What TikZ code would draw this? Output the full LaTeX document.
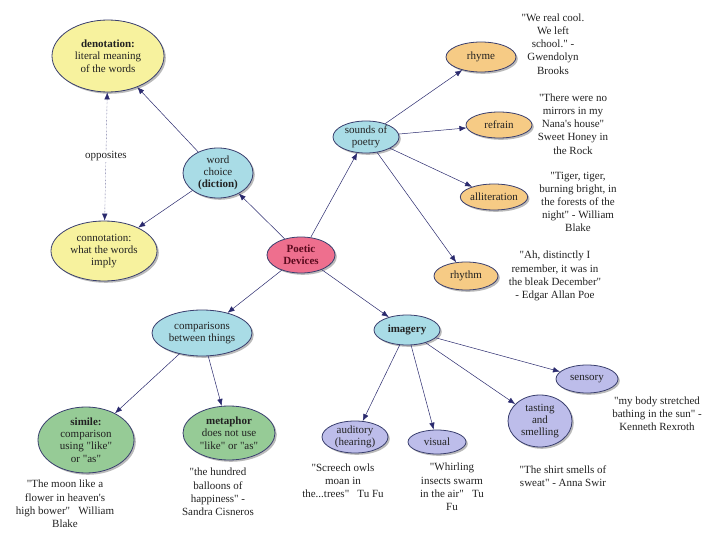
\documentclass[tikz,border=0pt]{standalone}
\usepackage{fontspec}
\setmainfont{Liberation Serif}[Ligatures=TeXOff]
\usetikzlibrary{shapes.geometric,shadows,arrows.meta}
\definecolor{yel}{HTML}{F7F29E}
\definecolor{blu}{HTML}{A9DCE6}
\definecolor{pnk}{HTML}{EE6F8E}
\definecolor{org}{HTML}{F6CB85}
\definecolor{grn}{HTML}{96CB96}
\definecolor{lav}{HTML}{BDBDEA}
\definecolor{edgeblue}{HTML}{3A3F6E}
\definecolor{arrowblue}{HTML}{15156A}
\definecolor{txt}{HTML}{222222}
\tikzset{
  bub/.style={ellipse, draw=edgeblue, line width=0.8pt, inner sep=0pt, align=center,
    text=txt, font=\fontsize{11}{12.3}\selectfont,
    drop shadow={shadow xshift=1.8pt, shadow yshift=-1.8pt, fill=black!45, opacity=0.6}},
  quote/.style={align=center, text=txt, inner sep=0pt, font=\fontsize{11}{13.2}\selectfont},
  link/.style={draw=arrowblue!80!gray, line width=0.5pt, -{Latex[length=7pt,width=5.5pt]}},
}
\begin{document}
\begin{tikzpicture}[x=1pt,y=-1pt]
\fill[white] (0,0) rectangle (720,540);
\useasboundingbox (0,0) rectangle (720,540);

% bubbles
\node[bub, fill=yel, minimum width=112pt, minimum height=72pt] (deno) at (108,56) {\textbf{denotation:}\\literal meaning\\of the words};
\node[bub, fill=yel, minimum width=106pt, minimum height=60pt] (conno) at (104,251) {connotation:\\what the words\\imply};
\node[bub, fill=blu, minimum width=70pt, minimum height=50pt] (word) at (218,173) {word\\choice\\\textbf{(diction)}};
\node[bub, fill=pnk, minimum width=68pt, minimum height=36pt, text={rgb,255:red,90;green,10;blue,30}, font=\fontsize{11}{12.3}\selectfont\bfseries] (poetic) at (301,255) {Poetic\\Devices};
\node[bub, fill=blu, minimum width=66pt, minimum height=32pt] (sounds) at (366,137) {sounds of\\poetry};
\node[bub, fill=org, minimum width=70pt, minimum height=30pt] (rhyme) at (481,57) {rhyme};
\node[bub, fill=org, minimum width=66pt, minimum height=26pt] (refrain) at (499,125) {refrain};
\node[bub, fill=org, minimum width=64pt, minimum height=26pt] (allit) at (494,197) {alliteration};
\node[bub, fill=org, minimum width=64pt, minimum height=28pt] (rhythm) at (466,276) {rhythm};
\node[bub, fill=blu, minimum width=100pt, minimum height=46pt] (comp) at (202,333) {comparisons\\between things};
\node[bub, fill=blu, minimum width=66pt, minimum height=30pt] (imag) at (407,330) {\textbf{imagery}};
\node[bub, fill=grn, minimum width=96pt, minimum height=66pt] (simile) at (86,440) {\textbf{simile:}\\comparison\\using "like"\\or "as"};
\node[bub, fill=grn, minimum width=92pt, minimum height=54pt] (meta) at (229,433) {\textbf{metaphor}\\does not use\\"like" or "as"};
\node[bub, fill=lav, minimum width=66pt, minimum height=32pt] (aud) at (355,437) {auditory\\(hearing)};
\node[bub, fill=lav, minimum width=58pt, minimum height=24pt] (vis) at (437,442) {visual};
\node[bub, fill=lav, minimum width=64pt, minimum height=52pt] (taste) at (540,421) {tasting\\and\\smelling};
\node[bub, fill=lav, minimum width=62pt, minimum height=28pt] (sens) at (587,379) {sensory};

% quotes
\node[quote] (q1) at (553,44) {"We real cool.\\We left\\school." -\\Gwendolyn\\Brooks};
\node[quote] (q2) at (573,124) {"There were no\\mirrors in my\\Nana's house"\\Sweet Honey in\\the Rock};
\node[quote] (q3) at (578,202) {"Tiger, tiger,\\burning bright, in\\the forests of the\\night" - William\\Blake};
\node[quote] (q4) at (555,276) {"Ah, distinctly I\\remember, it was in\\the bleak December"\\- Edgar Allan Poe};
\node[quote] (q5) at (65,504) {"The moon like a\\flower in heaven's\\high bower" \ \ William\\Blake};
\node[quote] (q6) at (218,492) {"the hundred\\balloons of\\happiness" -\\Sandra Cisneros};
\node[quote] (q7) at (343,481) {"Screech owls\\moan in\\the...trees" \ \ Tu Fu};
\node[quote] (q8) at (452,487) {"Whirling\\insects swarm\\in the air" \ \ Tu\\Fu};
\node[quote] (q9) at (563,476) {"The shirt smells of\\sweat" - Anna Swir};
\node[quote] (q10) at (657,414) {"my body stretched\\bathing in the sun" -\\Kenneth Rexroth};

% connectors
\draw[link] (poetic) -- (word);
\draw[link] (word) -- (deno);
\draw[link] (word) -- (conno);
\draw[draw=arrowblue!80!gray, line width=0.4pt, densely dotted, {Latex[length=7pt,width=5.5pt]}-{Latex[length=7pt,width=5.5pt]}] (deno) -- node[quote, fill=white, inner sep=1pt] (opp) {opposites} (conno);
\draw[link] (poetic) -- (sounds);
\draw[link] (sounds) -- (rhyme);
\draw[link] (sounds) -- (refrain);
\draw[link] (sounds) -- (allit);
\draw[link] (sounds) -- (rhythm);
\draw[link] (poetic) -- (comp);
\draw[link] (poetic) -- (imag);
\draw[link] (comp) -- (simile);
\draw[link] (comp) -- (meta);
\draw[link] (imag) -- (aud);
\draw[link] (imag) -- (vis);
\draw[link] (imag) -- (taste);
\draw[link] (imag) -- (sens);
\end{tikzpicture}
\end{document}
